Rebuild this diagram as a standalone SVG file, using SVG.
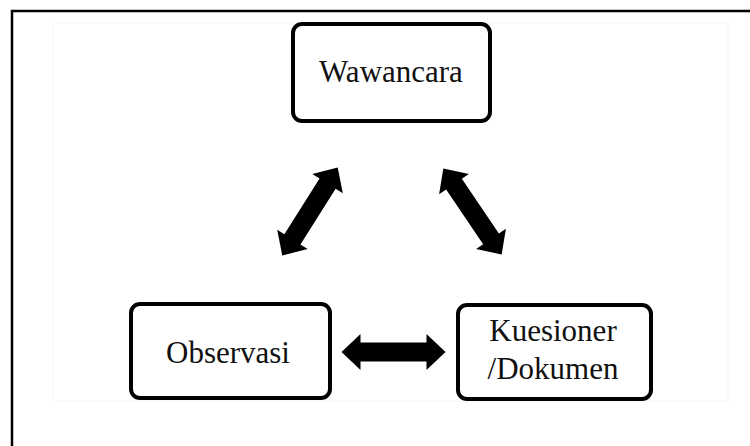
<svg xmlns="http://www.w3.org/2000/svg" xmlns:xlink="http://www.w3.org/1999/xlink" width="750" height="446" viewBox="0 0 750 446">
<style>
.box{fill:#fff;stroke:#000;stroke-width:4}
.lbl{font-family:"Liberation Serif","Times New Roman",serif;font-size:31px;fill:#111;text-anchor:middle}
</style>
<defs>
<path id="dbl" d="M -52 0 L -33 -18 L -33 -9.5 L 33 -9.5 L 33 -18 L 52 0 L 33 18 L 33 9.5 L -33 9.5 L -33 18 Z" fill="#000"/>
</defs>
<rect x="0" y="0" width="750" height="446" fill="#fff"/>
<rect x="12" y="11" width="760" height="460" fill="#fff" stroke="#000" stroke-width="2.5"/>
<rect x="53" y="23" width="675" height="378" fill="#fff" stroke="#f7f7f7" stroke-width="1"/>
<g id="wawancara">
<rect class="box" x="293" y="24" width="197" height="97" rx="9"/>
<text class="lbl" x="391" y="82">Wawancara</text>
</g>
<g id="observasi">
<rect class="box" x="131" y="304" width="199" height="94" rx="9"/>
<text class="lbl" x="228" y="363">Observasi</text>
</g>
<g id="kuesioner">
<rect class="box" x="458" y="305" width="193" height="94" rx="9"/>
<text class="lbl" x="553" y="341">Kuesioner</text>
<text class="lbl" x="553" y="379">/Dokumen</text>
</g>
<g id="connectors">
<use xlink:href="#dbl" transform="translate(310 211.5) rotate(-57.8)"/>
<use xlink:href="#dbl" transform="translate(472.5 211.5) rotate(55.9)"/>
<use xlink:href="#dbl" transform="translate(393.5 352)"/>
</g>
</svg>
